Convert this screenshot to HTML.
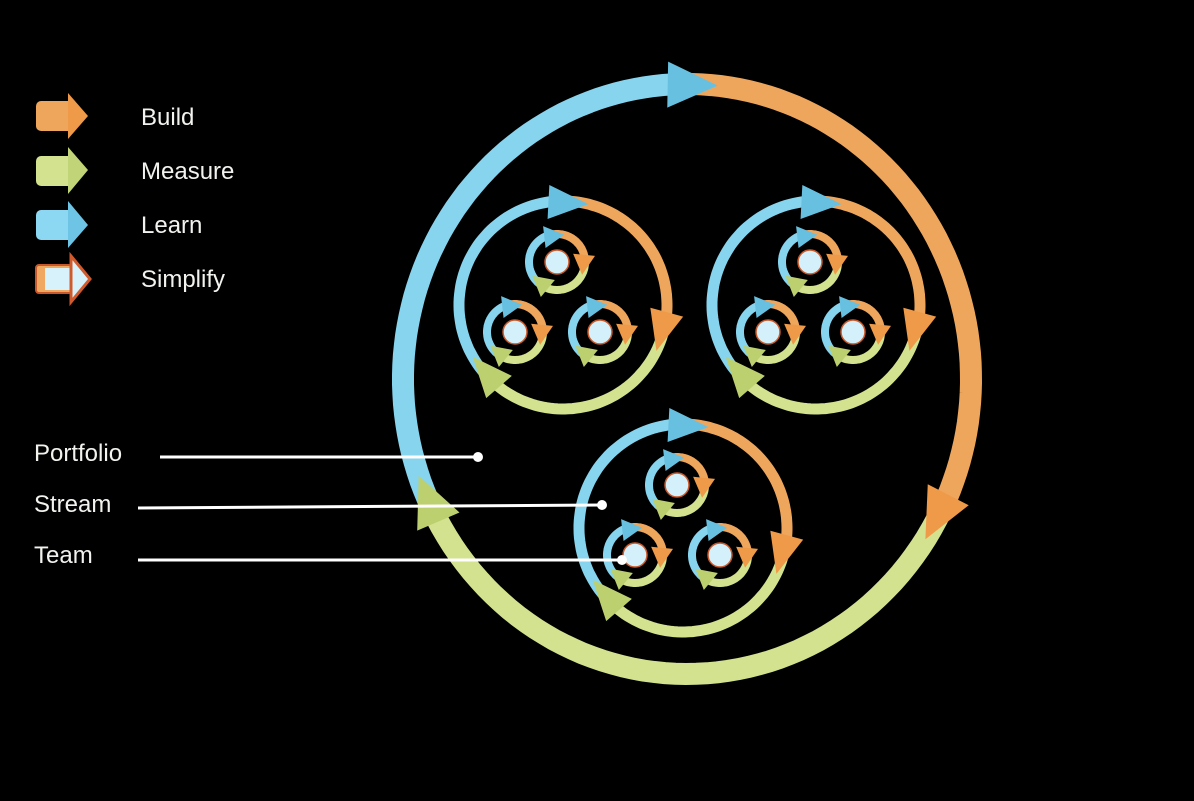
<!DOCTYPE html>
<html><head><meta charset="utf-8">
<style>
html,body{margin:0;padding:0;background:#000;width:1194px;height:801px;overflow:hidden}
svg{display:block}
text{font-family:"Liberation Sans",sans-serif;fill:#f2f2ee;font-size:24px}
</style></head>
<body>
<svg id="s" width="1194" height="801" viewBox="0 0 1194 801" xmlns="http://www.w3.org/2000/svg">
<rect width="1194" height="801" fill="#000"/>
<g>
<rect x="36" y="101" width="40" height="30" rx="5" fill="#eea65c"/><polygon points="68,93 68,139 88,116" fill="#ee9a48"/>
<rect x="36" y="156" width="40" height="30" rx="5" fill="#d3e28e"/><polygon points="68,147 68,194 88,170" fill="#c2d478"/>
<rect x="36" y="210" width="40" height="30" rx="5" fill="#8cd8f2"/><polygon points="68,201 68,248 88,225" fill="#6ec4e4"/>
<rect x="36" y="265" width="40" height="28" rx="3" fill="#f0a860" stroke="#c8582a" stroke-width="2"/><rect x="45" y="268" width="28" height="22" fill="#d8f2fb"/>
<polygon points="71,256 71,302 90,279" fill="#d8f2fb" stroke="#d05a2c" stroke-width="3"/>
<text x="141" y="125">Build</text>
<text x="141" y="179">Measure</text>
<text x="141" y="233">Learn</text>
<text x="141" y="287">Simplify</text>
</g>
<g id="cyc"></g>
<text x="34" y="461">Portfolio</text>
<text x="34" y="512">Stream</text>
<text x="34" y="563">Team</text>
<g stroke="#fff" stroke-width="3">
<line x1="160" y1="457" x2="478" y2="457"/>
<line x1="138" y1="508" x2="602" y2="505"/>
<line x1="138" y1="560" x2="622" y2="560"/>
</g>
<g fill="#fff"><circle cx="478" cy="457" r="5"/><circle cx="602" cy="505" r="5"/><circle cx="622" cy="560" r="5"/></g>
</svg>
<script>
var g=document.getElementById('cyc');var NS='http://www.w3.org/2000/svg';
var C={b:'#86d4ee',o:'#eea65c',g:'#d3e28e',bd:'#68c0e0',od:'#ee9a48',gd:'#bcd070'};
function el(t,a){var e=document.createElementNS(NS,t);for(var k in a)e.setAttribute(k,a[k]);g.appendChild(e);return e;}
function pt(cx,cy,rx,ry,a){var r=a*Math.PI/180;return [cx+rx*Math.cos(r),cy+ry*Math.sin(r)];}
function cycle(cx,cy,rx,ry,w,al,aw,tips){
  var segs=[['b',tips[2],tips[0]],['o',tips[0],tips[1]],['g',tips[1],tips[2]]];
  var r=(rx+ry)/2;var la=al/r*180/Math.PI;
  var arrows=[];
  segs.forEach(function(s){
    var a0=s[1]-la*0.9,a1=s[2];while(a1<=a0)a1+=360;
    var end=a1-la*0.9;var d='';var n=60;
    for(var i=0;i<=n;i++){var a=a0+(end-a0)*i/n;var p=pt(cx,cy,rx,ry,a);d+=(i?'L':'M')+p[0].toFixed(1)+','+p[1].toFixed(1);}
    el('path',{d:d,fill:'none',stroke:C[s[0]],'stroke-width':w});
    arrows.push([s[0],a1]);
  });
  arrows.forEach(function(s){
    var a1=s[1];
    var base=pt(cx,cy,rx,ry,a1-la);var tip=pt(cx,cy,rx,ry,a1);
    var dx=tip[0]-base[0],dy=tip[1]-base[1],L=Math.hypot(dx,dy);dx/=L;dy/=L;
    var tx=base[0]+dx*al,ty=base[1]+dy*al;
    var nx=-dy,ny=dx;
    el('polygon',{points:(base[0]+nx*aw/2)+','+(base[1]+ny*aw/2)+' '+(base[0]-nx*aw/2)+','+(base[1]-ny*aw/2)+' '+tx+','+ty,fill:C[s[0]+'d']});
  });
}
cycle(687,379,284,295,22,50,46,[-84,33,161]);
function stream(cx,cy){
  cycle(cx,cy,104,104,11,40,34,[-76,26,150]);
  [[cx-6,cy-43],[cx-48,cy+27],[cx+37,cy+27]].forEach(function(c){
    cycle(c[0],c[1],28,28,8,20,22,[-76,26,150]);
    el('circle',{cx:c[0],cy:c[1],r:12,fill:'#d4f0fa',stroke:'#c8582a','stroke-width':1.5});
  });
}
stream(563,305);stream(816,305);stream(683,528);
</script>
</body></html>
